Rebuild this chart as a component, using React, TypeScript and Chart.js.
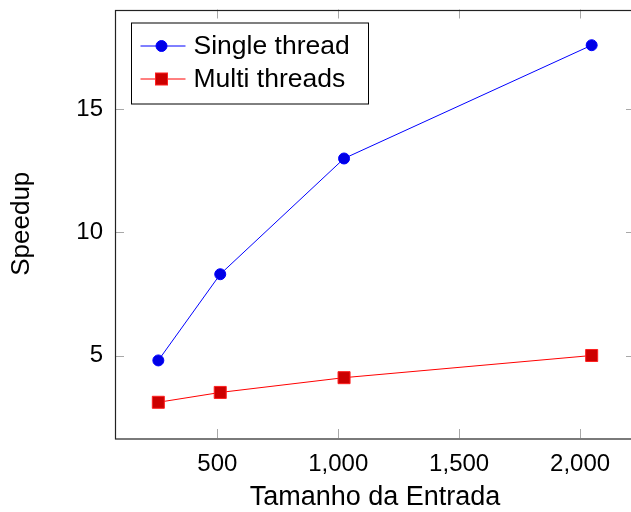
import React, { useEffect, useRef } from "react";
import { Chart, registerables } from "chart.js";

Chart.register(...registerables);

const inputSizes = [256, 512, 1024, 2048];
const singleThread = [4.8, 8.3, 13.0, 17.6];
const multiThreads = [3.1, 3.5, 4.1, 5.0];
const seriesLabels = ["Single thread", "Multi threads"];
const xTickValues = [500, 1000, 1500, 2000];
const yTickValues = [5, 10, 15];
const xTitle = "Tamanho da Entrada";
const yTitle = "Speedup";

const FONT = "'Liberation Sans', Arial, sans-serif";

const span = (a: number[]) => Math.max(...a) - Math.min(...a);
const allY = [...singleThread, ...multiThreads];
const xMin = Math.min(...inputSizes) - 0.1 * span(inputSizes);
const xMax = Math.max(...inputSizes) + 0.1 * span(inputSizes);
const yMin = Math.min(...allY) - 0.1 * span(allY);
const yMax = Math.max(...allY) + 0.1 * span(allY);

const framePlugin = {
  id: "frame",
  beforeDatasetsDraw(chart: any) {
    const { ctx, chartArea } = chart;
    const { left, right, top, bottom } = chartArea;
    const xs = chart.scales.x;
    const ys = chart.scales.y;
    const tl = 9;
    ctx.save();
    ctx.strokeStyle = "#a8a8a8";
    ctx.lineWidth = 1;
    ctx.beginPath();
    xs.ticks.forEach((t: any) => {
      const p = Math.round(xs.getPixelForValue(t.value)) + 0.5;
      ctx.moveTo(p, bottom);
      ctx.lineTo(p, bottom - tl);
      ctx.moveTo(p, top);
      ctx.lineTo(p, top + tl);
    });
    ys.ticks.forEach((t: any) => {
      const p = Math.round(ys.getPixelForValue(t.value)) + 0.5;
      ctx.moveTo(left, p);
      ctx.lineTo(left + tl, p);
      ctx.moveTo(right, p);
      ctx.lineTo(right - tl, p);
    });
    ctx.stroke();
    ctx.strokeStyle = "#222";
    ctx.lineWidth = 1.2;
    ctx.strokeRect(Math.round(left) + 0.5, Math.round(top) + 0.5, right - left, bottom - top);
    ctx.restore();
  },
};

const legendPlugin = {
  id: "boxLegend",
  afterDraw(chart: any) {
    const { ctx, chartArea } = chart;
    const bx = chartArea.left + 16.5;
    const by = chartArea.top + 13.5;
    const bw = 237;
    const bh = 81;
    ctx.save();
    ctx.fillStyle = "#fff";
    ctx.fillRect(bx, by, bw, bh);
    ctx.strokeStyle = "#000";
    ctx.lineWidth = 1;
    ctx.strokeRect(bx, by, bw, bh);
    chart.data.datasets.forEach((ds: any, i: number) => {
      const cy = by + 23 + i * 33;
      const lx0 = bx + 9;
      const lx1 = bx + 54;
      const mx = bx + 30;
      ctx.strokeStyle = ds.borderColor;
      ctx.lineWidth = 1;
      ctx.beginPath();
      ctx.moveTo(lx0, cy);
      ctx.lineTo(lx1, cy);
      ctx.stroke();
      ctx.fillStyle = ds.pointBackgroundColor;
      ctx.strokeStyle = ds.pointBorderColor;
      if (ds.pointStyle === "rect") {
        const s = 6;
        ctx.fillRect(mx - s, cy - s, 2 * s, 2 * s);
        ctx.strokeRect(mx - s, cy - s, 2 * s, 2 * s);
      } else {
        ctx.beginPath();
        ctx.arc(mx, cy, 5.5, 0, Math.PI * 2);
        ctx.fill();
        ctx.stroke();
      }
      ctx.fillStyle = "#000";
      ctx.font = `26.5px ${FONT}`;
      ctx.textBaseline = "middle";
      ctx.textAlign = "left";
      ctx.fillText(ds.label, bx + 62, cy + 1);
    });
    ctx.restore();
  },
};

export default function App() {
  const ref = useRef<HTMLCanvasElement>(null);
  useEffect(() => {
    if (!ref.current) return;
    const chart = new Chart(ref.current, {
      type: "line",
      data: {
        datasets: [
          {
            label: seriesLabels[0],
            data: inputSizes.map((x, i) => ({ x, y: singleThread[i] })),
            borderColor: "#0000ff",
            borderWidth: 1,
            pointStyle: "circle",
            pointRadius: 5.5,
            pointBackgroundColor: "#0000e6",
            pointBorderColor: "#0000ff",
            pointBorderWidth: 1,
            tension: 0,
          },
          {
            label: seriesLabels[1],
            data: inputSizes.map((x, i) => ({ x, y: multiThreads[i] })),
            borderColor: "#ff0000",
            borderWidth: 1,
            pointStyle: "rect",
            pointRadius: 8.5,
            pointBackgroundColor: "#cc0000",
            pointBorderColor: "#ff2020",
            pointBorderWidth: 1,
            tension: 0,
          },
        ],
      },
      options: {
        animation: false,
        responsive: false,
        events: [],
        layout: { padding: { top: 9, right: 10, left: 0, bottom: 0 } },
        plugins: { legend: { display: false }, tooltip: { enabled: false } },
        scales: {
          x: {
            type: "linear",
            min: xMin,
            max: xMax,
            grid: { display: false, drawTicks: false },
            border: { display: false },
            afterBuildTicks: (s: any) => {
              s.ticks = xTickValues.map((v) => ({ value: v }));
            },
            ticks: {
              maxRotation: 0,
              autoSkip: false,
              padding: 12,
              color: "#000",
              font: { family: FONT, size: 24 },
              callback: (v: any) => Number(v).toLocaleString("en-US"),
            },
            title: {
              display: true,
              text: xTitle,
              color: "#000",
              font: { family: FONT, size: 27, lineHeight: 1 },
              padding: { top: 0, bottom: 1 },
            },
            afterFit: (s: any) => {
              s.height = 74;
              s.paddingLeft = 0;
              s.paddingRight = 0;
            },
          },
          y: {
            type: "linear",
            min: yMin,
            max: yMax,
            grid: { display: false, drawTicks: false },
            border: { display: false },
            afterBuildTicks: (s: any) => {
              s.ticks = yTickValues.map((v) => ({ value: v }));
            },
            ticks: {
              autoSkip: false,
              padding: 12,
              color: "#000",
              font: { family: FONT, size: 24 },
            },
            title: {
              display: true,
              text: yTitle,
              color: "#000",
              font: { family: FONT, size: 26, lineHeight: 1 },
              padding: { top: 9, bottom: 0 },
            },
            afterFit: (s: any) => {
              s.width = 115;
              s.paddingTop = 0;
              s.paddingBottom = 0;
            },
          },
        },
      },
      plugins: [framePlugin, legendPlugin],
    } as any);
    return () => chart.destroy();
  }, []);
  return (
    <div
      style={{
        position: "absolute",
        left: 0,
        top: 0,
        width: 631,
        height: 512,
        overflow: "hidden",
        background: "#fff",
      }}
    >
      <canvas ref={ref} width={645} height={512} style={{ width: 645, height: 512, display: "block" }} />
    </div>
  );
}
